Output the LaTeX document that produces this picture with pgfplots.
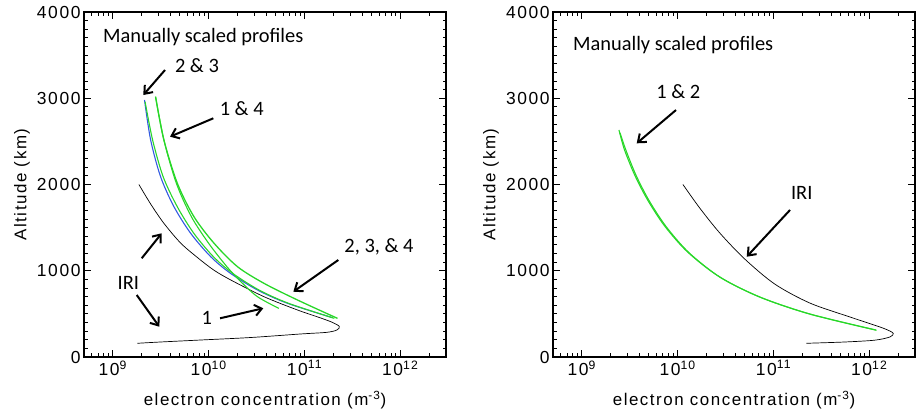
\documentclass[border=0pt]{standalone}
\usepackage{fontspec}
\setmainfont{Liberation Sans}
\newfontfamily\calib{Carlito}
\newfontfamily\idl[LetterSpace=9]{Liberation Sans}
\usepackage{pgfplots}
\pgfplotsset{compat=1.18}
\usetikzlibrary{arrows.meta}
\definecolor{grn}{RGB}{40,215,40}
\definecolor{blu}{RGB}{50,90,225}
\tikzset{
  ann/.style={font=\fontsize{20.5}{22}\calib, inner sep=0pt},
  arr/.style={-{Straight Barb[length=7bp,width=11bp]}, line width=2pt, black},
}
\pgfplotsset{
  scale only axis, width=362bp, height=345bp,
  xmin=5e8, xmax=3e12, ymin=0, ymax=4000,
  xtick={1e9,1e10,1e11,1e12},
  xticklabels={\mbox{10\textsuperscript{9}},\mbox{10\textsuperscript{10}},\mbox{10\textsuperscript{11}},\mbox{10\textsuperscript{12}}},
  minor xtick={6e8,7e8,8e8,9e8,2e9,3e9,4e9,5e9,6e9,7e9,8e9,9e9,2e10,3e10,4e10,5e10,6e10,7e10,8e10,9e10,2e11,3e11,4e11,5e11,6e11,7e11,8e11,9e11,2e12},
  ytick={0,1000,2000,3000,4000},
  yticklabels={\mbox{0},\mbox{1000},\mbox{2000},\mbox{3000},\mbox{4000}},
  minor y tick num=9,
  tick align=inside, major tick length=7bp, minor tick length=3.5bp,
  axis line style={line width=1.2pt},
  every tick/.style={black, line width=0.9pt},
  ticklabel style={font=\fontsize{17.5}{18}\idl},
  label style={font=\fontsize{17}{19}\idl},
  xlabel style={at={(axis description cs:0.5,-0.1246)}, anchor=center},
  ylabel style={at={(axis description cs:-0.1713,0.5)}, anchor=center},
}
\begin{document}
\begin{tikzpicture}
\useasboundingbox (0,0) rectangle (918bp,412bp);
% ---------- left panel ----------
\begin{semilogxaxis}[at={(84bp,55bp)}, anchor=south west,
  xlabel={electron concentration (m\textsuperscript{-3})}, ylabel={Altitude (km)}]
\addplot[black, line width=0.7pt, smooth, tension=0.5] coordinates {
(1.87e9,2000) (2.48e9,1774) (3.41e9,1550) (5.09e9,1322) (7.62e9,1154)
(1.127e10,1009) (1.70e10,893) (3.78e10,699) (8.45e10,545) (1.48e11,452)
(1.97e11,400) (2.31e11,354) (2.18e11,313) (1.71e11,286) (9.14e10,267)
(2.75e10,226) (8.24e9,197) (3.15e9,174) (1.8e9,159)};
\addplot[blu, line width=1.1pt, smooth, tension=0.5] coordinates {
(2.14e9,2980) (2.48e9,2516) (3.15e9,2090) (4.34e9,1743) (6.49e9,1434)
(1.05e10,1163) (1.69e10,970) (3.23e10,777) (6.64e10,623) (1.96e11,456)};
\addplot[grn, line width=1.1pt, smooth, tension=0.5] coordinates {
(2.17e9,2960) (2.6e9,2516) (3.35e9,2090) (4.7e9,1743) (7.0e9,1434)
(1.12e10,1163) (1.78e10,970) (3.35e10,777) (6.8e10,623) (2.05e11,448)};
\addplot[grn, line width=1.1pt, smooth, tension=0.5] coordinates {
(2.79e9,3018) (3.41e9,2516) (4.6e9,2014) (6.6e9,1627) (1.0e10,1318)
(1.55e10,1047) (2.17e10,873) (3.23e10,699) (5.4e10,564)};
\addplot[grn, line width=1.3pt, smooth, tension=0.5] coordinates {
(2.79e9,3018) (3.41e9,2516) (4.71e9,2014) (7.02e9,1627) (1.14e10,1318)
(2.0e10,1047) (3.78e10,854) (8.45e10,661) (2.21e11,448)};
\node[ann, anchor=west] at (rel axis cs:0.0525,0.9275) {Manually scaled profiles};
\node[ann] at (rel axis cs:0.312,0.846) {2 \& 3};
\draw[arr] (rel axis cs:0.2238,0.8319) -- (rel axis cs:0.1638,0.7594);
\node[ann] at (rel axis cs:0.4356,0.7209) {1 \& 4};
\draw[arr] (rel axis cs:0.3572,0.6919) -- (rel axis cs:0.2376,0.6386);
\node[ann] at (rel axis cs:0.8149,0.3197) {2, 3, \& 4};
\draw[arr] (rel axis cs:0.7025,0.2812) -- (rel axis cs:0.5782,0.1893);
\node[ann] at (rel axis cs:0.1224,0.2136) {IRI};
\draw[arr] (rel axis cs:0.1594,0.2861) -- (rel axis cs:0.2146,0.3586);
\draw[arr] (rel axis cs:0.1456,0.1797) -- (rel axis cs:0.2080,0.0878);
\node[ann] at (rel axis cs:0.339,0.1122) {1};
\draw[arr] (rel axis cs:0.3757,0.1122) -- (rel axis cs:0.4953,0.1412);
\end{semilogxaxis}
% ---------- right panel ----------
\begin{semilogxaxis}[at={(553bp,55bp)}, anchor=south west,
  xlabel={electron concentration (m\textsuperscript{-3})}, ylabel={Altitude (km)}]
\addplot[black, line width=0.7pt, smooth, tension=0.5] coordinates {
(1.135e10,2000) (1.70e10,1727) (2.75e10,1438) (5.01e10,1136) (1.03e11,846)
(2.39e11,626) (6.27e11,464) (1.29e12,348) (1.64e12,301) (1.78e12,272)
(1.64e12,232) (1.14e12,195) (5.56e11,174) (2.21e11,159)};
\addplot[grn, line width=1.1pt, smooth, tension=0.5] coordinates {
(2.44e9,2632) (2.79e9,2400) (3.56e9,2110) (4.86e9,1820) (7.31e9,1519)
(1.27e10,1217) (2.74e10,928) (7.18e10,696) (2.39e11,499) (1.17e12,313)};
\addplot[grn, line width=1.1pt, smooth, tension=0.5] coordinates {
(2.5e9,2600) (2.9e9,2390) (3.7e9,2100) (5.05e9,1810) (7.6e9,1510)
(1.31e10,1210) (2.8e10,922) (7.3e10,692) (2.42e11,496) (1.19e12,310)};
\node[ann, anchor=west] at (rel axis cs:0.055,0.904) {Manually scaled profiles};
\node[ann] at (rel axis cs:0.3461,0.769) {1 \& 2};
\draw[arr] (rel axis cs:0.3398,0.7159) -- (rel axis cs:0.2312,0.6194);
\node[ann] at (rel axis cs:0.687,0.4745) {IRI};
\draw[arr] (rel axis cs:0.6547,0.4261) -- (rel axis cs:0.5351,0.2907);
\end{semilogxaxis}
\end{tikzpicture}
\end{document}
